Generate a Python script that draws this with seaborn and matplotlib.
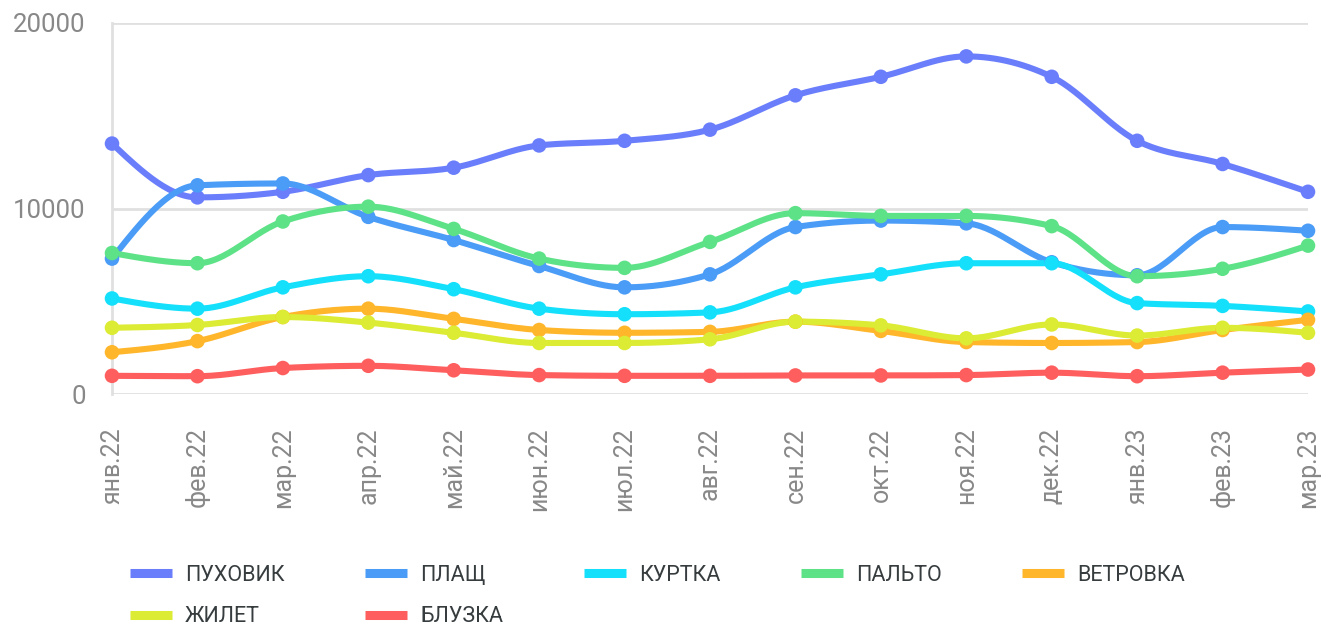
import numpy as np
import pandas as pd
import matplotlib
matplotlib.use("Agg")
import matplotlib.pyplot as plt
from matplotlib.lines import Line2D
import seaborn as sns

# Monthly values
months = ["янв.22", "фев.22", "мар.22", "апр.22", "май.22", "июн.22", "июл.22",
          "авг.22", "сен.22", "окт.22", "ноя.22", "дек.22", "янв.23", "фев.23", "мар.23"]

puhovik = [13500, 10600, 10900, 11800, 12200, 13400, 13650, 14250, 16100, 17100, 18200, 17100, 13650, 12400, 10900]
plasch = [7300, 11250, 11350, 9550, 8300, 6900, 5750, 6450, 9000, 9350, 9200, 7100, 6400, 9000, 8800]
kurtka = [5150, 4600, 5750, 6350, 5650, 4600, 4300, 4400, 5750, 6450, 7050, 7050, 4900, 4750, 4450]
palto = [7600, 7050, 9300, 10100, 8900, 7300, 6800, 8200, 9750, 9600, 9600, 9050, 6350, 6750, 8000]
vetrovka = [2250, 2850, 4150, 4600, 4050, 3450, 3300, 3350, 3900, 3400, 2800, 2750, 2800, 3450, 4000]
zhilet = [3570, 3720, 4150, 3850, 3300, 2750, 2750, 2950, 3900, 3700, 3000, 3750, 3150, 3570, 3300]
bluzka = [980, 960, 1400, 1520, 1280, 1020, 980, 980, 1000, 1000, 1020, 1150, 960, 1150, 1320]

names = ["ПУХОВИК", "ПЛАЩ", "КУРТКА", "ПАЛЬТО", "ВЕТРОВКА", "ЖИЛЕТ", "БЛУЗКА"]
series = [puhovik, plasch, kurtka, palto, vetrovka, zhilet, bluzka]
colors = ["#6A7EFC", "#4A9CF7", "#14E0FB", "#5EE287", "#FFB62B", "#DCEB33", "#FF5E5E"]


def monotone(y, steps=30):
    # monotone cubic (d3 curveMonotoneX style) through equally spaced points
    y = np.asarray(y, dtype=float)
    n = len(y)
    d = np.diff(y)
    m = np.zeros(n)
    for i in range(1, n - 1):
        s0, s1 = d[i - 1], d[i]
        p = (s0 + s1) / 2
        m[i] = (np.sign(s0) + np.sign(s1)) * min(abs(s0), abs(s1), 0.5 * abs(p))
    m[0] = (3 * d[0] - m[1]) / 2
    m[-1] = (3 * d[-1] - m[-2]) / 2
    xs, ys = [], []
    t = np.linspace(0, 1, steps, endpoint=False)
    for i in range(n - 1):
        h00 = 2 * t**3 - 3 * t**2 + 1
        h10 = t**3 - 2 * t**2 + t
        h01 = -2 * t**3 + 3 * t**2
        h11 = t**3 - t**2
        xs.extend(i + t)
        ys.extend(h00 * y[i] + h10 * m[i] + h01 * y[i + 1] + h11 * m[i + 1])
    xs.append(n - 1)
    ys.append(y[-1])
    return np.array(xs), np.array(ys)


sns.set_theme(style="white")
plt.rcParams["font.family"] = ["Roboto", "DejaVu Sans"]

fig = plt.figure(figsize=(13.21, 6.25), dpi=100)
ax = fig.add_axes([112 / 1321, 1 - 394 / 625, (1308 - 112) / 1321, (394 - 23) / 625])

x = np.arange(len(months))
for name, vals, col in zip(names, series, colors):
    cx, cy = monotone(vals)
    curve = pd.DataFrame({"x": cx, "y": cy})
    pts = pd.DataFrame({"x": x, "y": vals})
    sns.lineplot(data=curve, x="x", y="y", color=col, linewidth=4.4,
                 sort=False, estimator=None, ax=ax, legend=False,
                 solid_capstyle="round", clip_on=False)
    sns.scatterplot(data=pts, x="x", y="y", color=col, s=110, edgecolor="none",
                    ax=ax, legend=False, clip_on=False, zorder=3)

ax.set_xlim(0, len(months) - 1)
ax.set_ylim(0, 20000)
ax.set_yticks([0, 10000, 20000])
ax.set_yticklabels(["0", "10000", "20000"])
ax.set_xticks(x)
ax.set_xticklabels(months, rotation=90)
ax.set_xlabel("")
ax.set_ylabel("")

ax.grid(axis="y", color="#e0e0e0", linewidth=2)
ax.set_axisbelow(True)
for side in ["top", "right", "bottom"]:
    ax.spines[side].set_visible(False)
ax.spines["left"].set_color("#e0e0e0")
ax.spines["left"].set_linewidth(2)

ax.tick_params(axis="y", length=0, pad=19, labelsize=18.5, labelcolor="#888888")
ax.tick_params(axis="x", length=0, pad=24, labelsize=18, labelcolor="#888888")

# legend filled row by row: reorder for matplotlib's column-major layout
order = [0, 5, 1, 6, 2, 3, 4]
handles = [Line2D([0], [0], color=colors[i], linewidth=6.5, solid_capstyle="butt") for i in order]
labels = [names[i] for i in order]
fig.legend(handles, labels, ncol=5, loc="upper left",
           bbox_to_anchor=(130 / 1321, 1 - 565 / 625), frameon=False,
           fontsize=15.5, handlelength=1.95, handletextpad=0.6,
           columnspacing=3.75, labelspacing=0.95, borderpad=0, borderaxespad=0,
           labelcolor="#373d3f")

fig.savefig("out.png", dpi=100)
